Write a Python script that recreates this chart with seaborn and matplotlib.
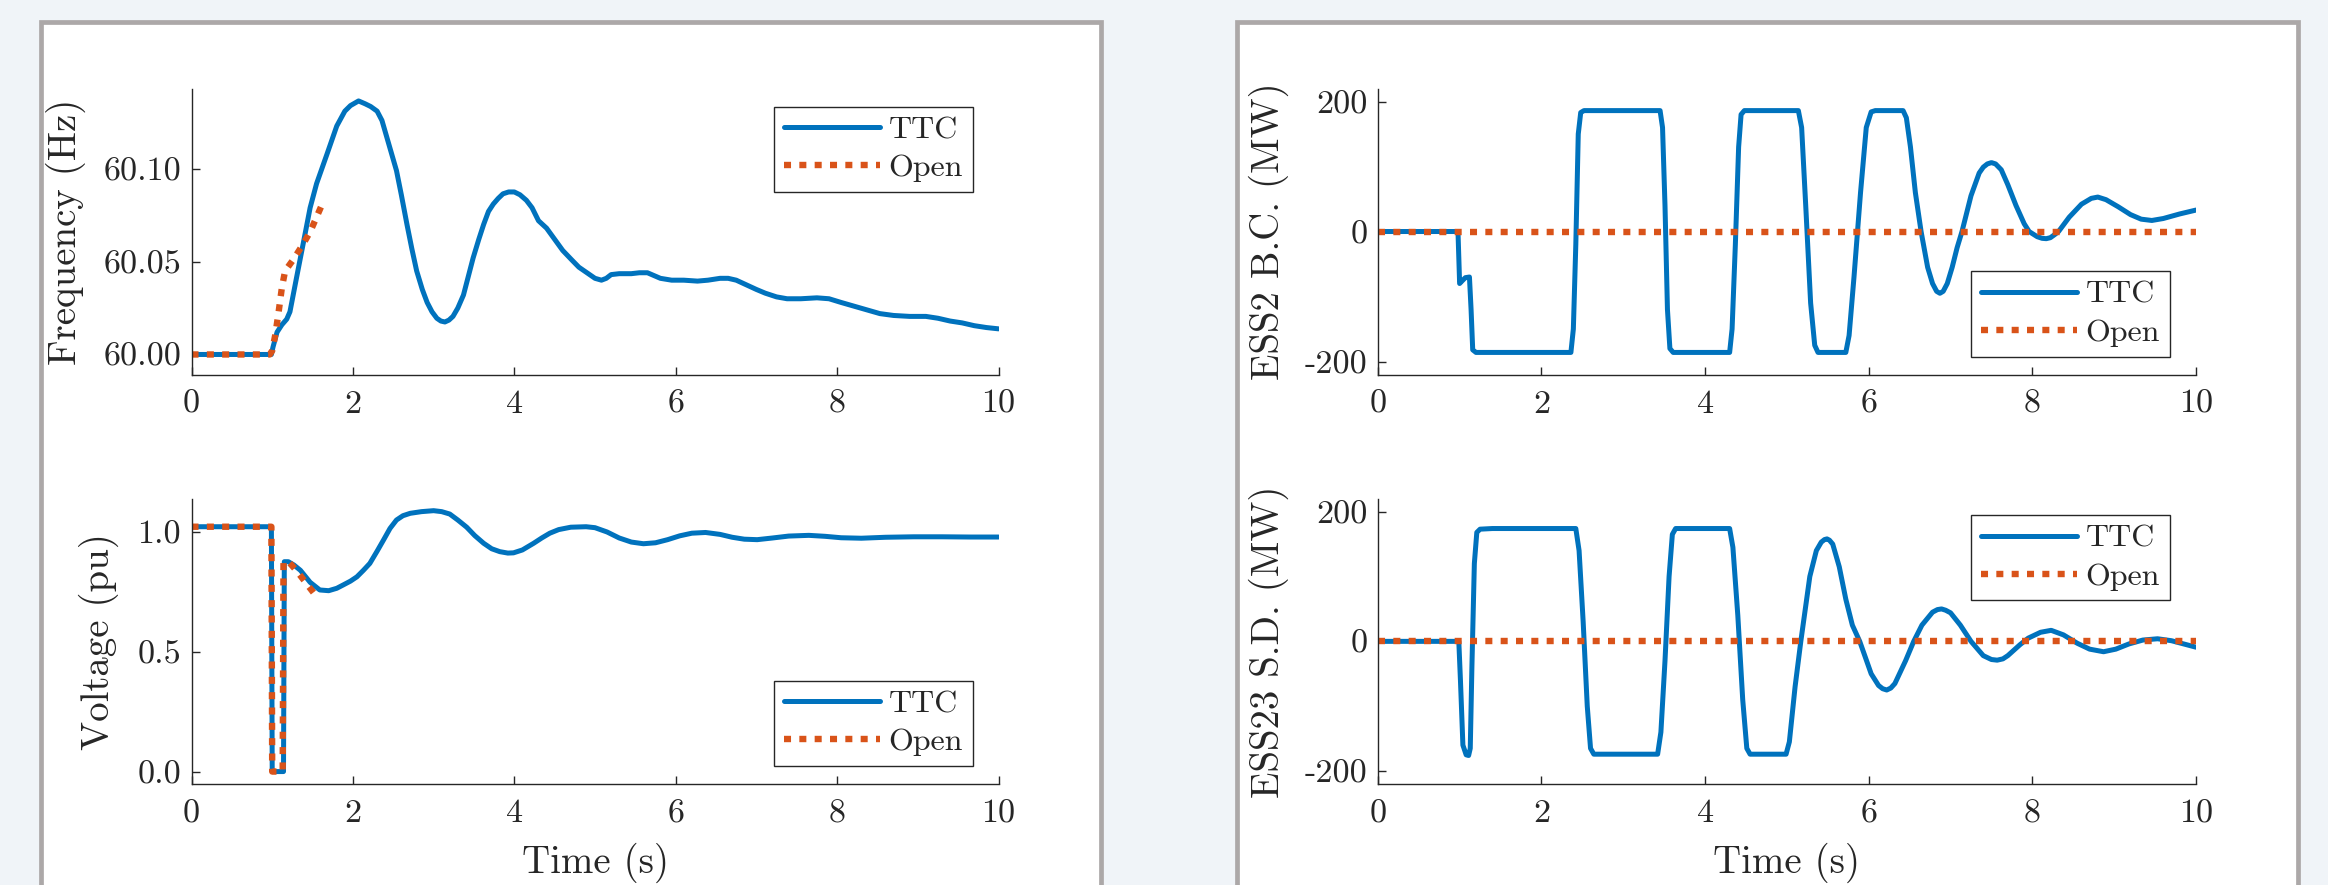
import numpy as np
import pandas as pd
import seaborn as sns
import matplotlib.pyplot as plt
from matplotlib.patches import Rectangle

# datos
t_freq_ttc = [0.0, 0.99, 1.01, 1.06, 1.12, 1.18, 1.22, 1.30, 1.39, 1.47, 1.55, 1.68, 1.80, 1.90,
              1.97, 2.07, 2.15, 2.22, 2.30, 2.36, 2.42, 2.48, 2.54, 2.60, 2.67, 2.73, 2.79, 2.86,
              2.92, 2.98, 3.04, 3.09, 3.14, 3.19, 3.24, 3.30, 3.37, 3.43, 3.49, 3.56, 3.62, 3.68,
              3.74, 3.80, 3.86, 3.93, 4.00, 4.07, 4.15, 4.22, 4.30, 4.40, 4.50, 4.60, 4.71, 4.80,
              4.90, 5.00, 5.08, 5.14, 5.20, 5.30, 5.45, 5.55, 5.65, 5.73, 5.81, 5.95, 6.10, 6.27,
              6.40, 6.55, 6.65, 6.75, 6.85, 7.00, 7.11, 7.25, 7.38, 7.55, 7.75, 7.90, 8.05, 8.21,
              8.37, 8.53, 8.70, 8.90, 9.10, 9.25, 9.40, 9.55, 9.70, 9.85, 10.0]
f_ttc = [60.000, 60.000, 60.004, 60.012, 60.016, 60.019, 60.023, 60.041, 60.061, 60.079, 60.092,
         60.108, 60.123, 60.131, 60.134, 60.1365, 60.135, 60.1335, 60.131, 60.126, 60.117, 60.108,
         60.099, 60.086, 60.070, 60.057, 60.045, 60.035, 60.028, 60.023, 60.0195, 60.018, 60.0175,
         60.0185, 60.0205, 60.025, 60.032, 60.042, 60.052, 60.062, 60.070, 60.077, 60.081, 60.084,
         60.0865, 60.0875, 60.0875, 60.086, 60.083, 60.079, 60.072, 60.068, 60.062, 60.056, 60.051,
         60.047, 60.044, 60.041, 60.040, 60.041, 60.043, 60.0435, 60.0435, 60.044, 60.044, 60.0425,
         60.041, 60.040, 60.040, 60.0395, 60.040, 60.041, 60.041, 60.040, 60.038, 60.035, 60.033,
         60.031, 60.030, 60.030, 60.0305, 60.030, 60.028, 60.026, 60.024, 60.022, 60.021, 60.0205,
         60.0205, 60.0195, 60.018, 60.017, 60.0155, 60.0145, 60.0138]
t_freq_open = [0.0, 0.97, 1.00, 1.04, 1.08, 1.12, 1.16, 1.26, 1.37, 1.47, 1.55, 1.62]
f_open = [60.000, 60.000, 60.002, 60.011, 60.023, 60.036, 60.045, 60.051, 60.0585, 60.066, 60.074, 60.081]

t_volt_ttc = [0.0, 0.99, 1.00, 1.14, 1.15, 1.20, 1.27, 1.35, 1.47, 1.59, 1.70, 1.80, 1.88, 1.97,
              2.05, 2.13, 2.21, 2.30, 2.38, 2.46, 2.54, 2.62, 2.71, 2.85, 3.00, 3.10, 3.20, 3.30,
              3.41, 3.51, 3.62, 3.72, 3.82, 3.92, 3.99, 4.10, 4.24, 4.34, 4.44, 4.55, 4.70, 4.89,
              5.00, 5.15, 5.30, 5.45, 5.60, 5.75, 5.90, 6.05, 6.20, 6.37, 6.55, 6.70, 6.85, 7.01,
              7.20, 7.40, 7.65, 7.85, 8.05, 8.30, 8.60, 8.95, 9.30, 9.65, 10.0]
v_ttc = [1.022, 1.022, 0.0, 0.0, 0.876, 0.876, 0.862, 0.84, 0.79, 0.758, 0.755, 0.765, 0.779, 0.795,
         0.813, 0.84, 0.869, 0.92, 0.967, 1.015, 1.050, 1.068, 1.078, 1.085, 1.089, 1.085, 1.075,
         1.05, 1.020, 0.985, 0.953, 0.930, 0.918, 0.912, 0.913, 0.925, 0.953, 0.975, 0.995, 1.010,
         1.020, 1.022, 1.018, 1.000, 0.975, 0.958, 0.951, 0.955, 0.968, 0.984, 0.995, 0.998, 0.99,
         0.978, 0.970, 0.968, 0.975, 0.983, 0.986, 0.982, 0.976, 0.974, 0.978, 0.980, 0.980, 0.979,
         0.979]
t_volt_open = [0.0, 0.99, 1.00, 1.13, 1.14, 1.20, 1.24, 1.31, 1.39, 1.47, 1.55]
v_open = [1.022, 1.022, 0.0, 0.0, 0.876, 0.876, 0.862, 0.835, 0.80, 0.765, 0.73]

t_ess2 = [0.0, 0.98, 1.00, 1.03, 1.07, 1.12, 1.14, 1.16, 1.20, 1.60, 2.00, 2.36, 2.39, 2.42, 2.45,
          2.48, 2.52, 3.00, 3.45, 3.48, 3.51, 3.54, 3.57, 3.61, 4.00, 4.30, 4.33, 4.37, 4.41, 4.44,
          4.48, 5.14, 5.18, 5.23, 5.29, 5.34, 5.38, 5.72, 5.76, 5.82, 5.90, 5.97, 6.03, 6.08, 6.42,
          6.46, 6.51, 6.57, 6.64, 6.72, 6.78, 6.83, 6.87, 6.91, 6.96, 7.02, 7.08, 7.14, 7.25, 7.35,
          7.40, 7.45, 7.50, 7.55, 7.62, 7.70, 7.80, 7.90, 7.96, 8.06, 8.12, 8.17, 8.22, 8.27, 8.32,
          8.45, 8.60, 8.72, 8.80, 8.90, 9.05, 9.20, 9.33, 9.46, 9.60, 9.80, 10.0]
p_ess2 = [0, 0, -80, -76, -71, -70, -120, -182, -186, -186, -186, -186, -150, -20, 150, 183, 186,
          186, 186, 160, 40, -120, -180, -186, -186, -186, -150, -20, 130, 180, 186, 186, 160, 40,
          -110, -175, -186, -186, -160, -70, 60, 160, 184, 186, 186, 175, 130, 60, 0, -55, -80, -92,
          -95, -92, -80, -55, -25, 0, 55, 90, 99, 104, 106, 104, 95, 72, 40, 12, 0, -8, -10.5, -11,
          -9.5, -5, 0, 22, 42, 51, 53, 49, 38, 26, 19, 17, 20, 27, 33]

t_ess23 = [0.0, 0.99, 1.01, 1.04, 1.08, 1.11, 1.13, 1.15, 1.18, 1.21, 1.25, 1.40, 2.42, 2.46, 2.51,
           2.56, 2.60, 2.64, 3.42, 3.46, 3.51, 3.56, 3.60, 3.64, 4.30, 4.34, 4.40, 4.46, 4.51, 4.55,
           4.99, 5.03, 5.10, 5.17, 5.28, 5.36, 5.42, 5.46, 5.49, 5.52, 5.56, 5.64, 5.72, 5.80, 5.89,
           6.03, 6.12, 6.17, 6.22, 6.27, 6.32, 6.45, 6.55, 6.65, 6.78, 6.84, 6.89, 6.94, 7.00, 7.12,
           7.25, 7.40, 7.50, 7.57, 7.64, 7.70, 7.85, 7.95, 8.10, 8.23, 8.38, 8.55, 8.70, 8.87, 9.02,
           9.18, 9.35, 9.53, 9.70, 9.85, 10.0]
p_ess23 = [0, 0, -60, -160, -175, -176, -165, -40, 120, 168, 173, 174, 174, 140, 30, -100, -165,
           -174, -174, -140, -30, 100, 165, 174, 174, 145, 40, -90, -165, -174, -174, -155, -70, 0,
           100, 140, 153, 157, 158, 156, 150, 115, 65, 25, 0, -50, -68, -73, -75, -72, -65, -30, 0,
           25, 45, 49, 50, 48, 44, 25, 0, -22, -28, -29, -27, -22, -5, 5, 14, 17, 10, -3, -12, -16,
           -12, -4, 2, 4, 1, -4, -9]

t_open_ess = [0.0, 10.0]
p_open_ess = [0, 0]

x_ticks = [0, 2, 4, 6, 8, 10]
x_tick_labels = ['0', '2', '4', '6', '8', '10']
freq_ticks = [60.00, 60.05, 60.10]
freq_tick_labels = ['60.00', '60.05', '60.10']
volt_ticks = [0.0, 0.5, 1.0]
volt_tick_labels = ['0.0', '0.5', '1.0']
ess_ticks = [-200, 0, 200]
ess_tick_labels = ['-200', '0', '200']

# estilo
sns.set_theme(style='white')
plt.rcParams['font.family'] = ['cmr10', 'DejaVu Serif']
plt.rcParams['axes.formatter.use_mathtext'] = True

BLUE = '#0072BD'
ORANGE = '#D95319'
DARK = '#262626'

fig = plt.figure(figsize=(23.28, 8.85), dpi=100, facecolor='#f0f4f8')

# paneles blancos con borde gris
for x0, w in [(0.01761, 0.45554), (0.53157, 0.45533)]:
    fig.add_artist(Rectangle((x0, -0.05), w, 1.02514, transform=fig.transFigure,
                             facecolor='white', edgecolor='#aca8a8', linewidth=3.4, zorder=-1))

ax_f = fig.add_axes([0.08226, 0.5768, 0.34665, 0.3232])
ax_v = fig.add_axes([0.08226, 0.1141, 0.34665, 0.3224])
ax_b = fig.add_axes([0.59184, 0.5768, 0.35146, 0.3232])
ax_s = fig.add_axes([0.59184, 0.1141, 0.35146, 0.3224])

paneles = [
    (ax_f, t_freq_ttc, f_ttc, t_freq_open, f_open, (59.9892, 60.1432), freq_ticks, freq_tick_labels,
     'Frequency (Hz)', -0.1307, (0.968, 0.937), 'upper right'),
    (ax_v, t_volt_ttc, v_ttc, t_volt_open, v_open, (-0.052, 1.139), volt_ticks, volt_tick_labels,
     'Voltage (pu)', -0.0898, (0.968, 0.063), 'lower right'),
    (ax_b, t_ess2, p_ess2, t_open_ess, p_open_ess, (-220, 220), ess_ticks, ess_tick_labels,
     'ESS2 B.C. (MW)', -0.1085, (0.968, 0.063), 'lower right'),
    (ax_s, t_ess23, p_ess23, t_open_ess, p_open_ess, (-220, 220), ess_ticks, ess_tick_labels,
     'ESS23 S.D. (MW)', -0.1085, (0.968, 0.943), 'upper right'),
]

for ax, tx, ty, ox, oy, ylim, yt, ytl, ylab, labx, anchor, loc in paneles:
    ax.set_facecolor('none')
    sns.lineplot(x=tx, y=ty, ax=ax, color=BLUE, linewidth=3.6, label='TTC',
                 estimator=None, sort=False)
    sns.lineplot(x=ox, y=oy, ax=ax, color=ORANGE, linewidth=4.6, label='Open',
                 estimator=None, sort=False, linestyle=(0, (1.1, 1.3)))

    ax.set_xlim(0, 10)
    ax.set_ylim(*ylim)
    ax.set_xticks(x_ticks)
    ax.set_xticklabels(x_tick_labels)
    ax.set_yticks(yt)
    ax.set_yticklabels(ytl)

    # ejes estilo matlab (box off)
    for s in ['top', 'right']:
        ax.spines[s].set_visible(False)
    for s in ['left', 'bottom']:
        ax.spines[s].set_color(DARK)
        ax.spines[s].set_linewidth(1.0)
    ax.tick_params(axis='both', direction='in', length=6, width=1.0, colors=DARK,
                   labelsize=24.5, left=True, bottom=True)
    ax.tick_params(axis='x', pad=11)
    ax.tick_params(axis='y', pad=7.5)

    ax.set_ylabel(ylab, fontsize=28, color=DARK)
    ax.yaxis.set_label_coords(labx, 0.5)

    leg = ax.legend(loc=loc, bbox_to_anchor=anchor, borderaxespad=0, fontsize=23,
                    handlelength=3.0, handletextpad=0.28, borderpad=0.3, labelspacing=0.3,
                    fancybox=False, framealpha=1)
    leg.get_frame().set_edgecolor(DARK)
    leg.get_frame().set_linewidth(1.0)

for ax in [ax_v, ax_s]:
    ax.set_xlabel('Time (s)', fontsize=28, color=DARK)
    ax.xaxis.set_label_coords(0.5, -0.2068)

for ax in [ax_f, ax_b]:
    ax.set_xlabel('')

fig.savefig('out.png', dpi=100, facecolor=fig.get_facecolor())
